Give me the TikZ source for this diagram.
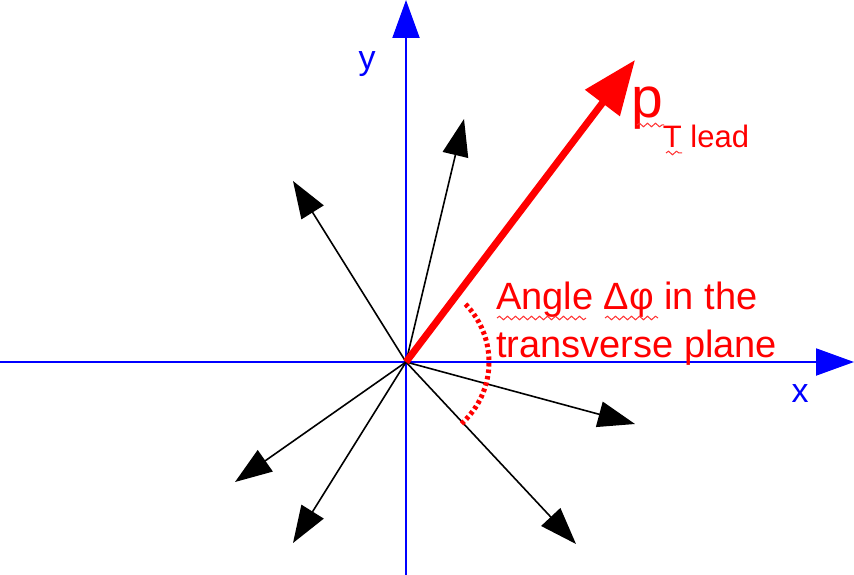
\documentclass[tikz,border=0pt]{standalone}
\usepackage{fontspec}
\setmainfont{Liberation Sans}
\usepackage{tikz}
\usetikzlibrary{arrows.meta,decorations.pathmorphing}

\begin{document}
\begin{tikzpicture}[x=1pt,y=-1pt,
    axis/.style={blue,line width=2pt,-{Triangle[length=38pt,width=27pt]}},
    track/.style={black,line width=1.6pt,-{Triangle[length=37pt,width=26pt]}},
    lead/.style={red,line width=7pt,-{Triangle[length=54pt,width=42pt]}},
    lbl/.style={inner sep=0pt},
    squig/.style={red!80,line width=1pt,decorate,decoration={snake,segment length=8pt,amplitude=1.8pt}}]

\useasboundingbox (0,0) rectangle (854,575);

% Axes
\coordinate (O) at (406,362);
\coordinate (xl) at (0,362);
\coordinate (xr) at (854,362);
\coordinate (yb) at (406,575);
\coordinate (yt) at (406,0);
\draw[axis] (xl) -- (xr);
\draw[axis] (yb) -- (yt);
\node[lbl,blue,anchor=base,font=\fontsize{34}{40}\selectfont] (ylab) at (367,70) {y};
\node[lbl,blue,anchor=base,font=\fontsize{34}{40}\selectfont] (xlab) at (800,402) {x};

% Traces
\coordinate (t1) at (464,119);
\coordinate (t2) at (293,181);
\coordinate (t3) at (635,424);
\coordinate (t4) at (576,544);
\coordinate (t5) at (293,543);
\coordinate (t6) at (235,482);
\foreach \t in {t1,t2,t3,t4,t5,t6}
  \draw[track] (O) -- (\t);

% Leading particle
\coordinate (pt) at (635,60);
\draw[lead] (O) -- (pt);
\node[lbl,red,anchor=base west] (ptlab) at (631,118)
  {\fontsize{57}{60}\selectfont p\raisebox{-29pt}{\fontsize{31}{36}\selectfont T lead}};

% Angle
\draw[red,line width=5pt,dash pattern=on 3.5pt off 3pt] ([shift={(48:83)}]O) arc[start angle=48,end angle=-45,radius=83];
\node[lbl,red,anchor=north west,align=left,font=\fontsize{38}{48}\selectfont] (angle) at (496,282)
  {Angle Δφ in the\\transverse plane};

% Spell-check marks
\draw[squig] (497,318) -- (586,318);
\draw[squig] (605,318) -- (658,318);
\draw[squig] (637,125) -- (664,125);
\draw[squig] (666,153) -- (682,153);

\end{tikzpicture}
\end{document}
